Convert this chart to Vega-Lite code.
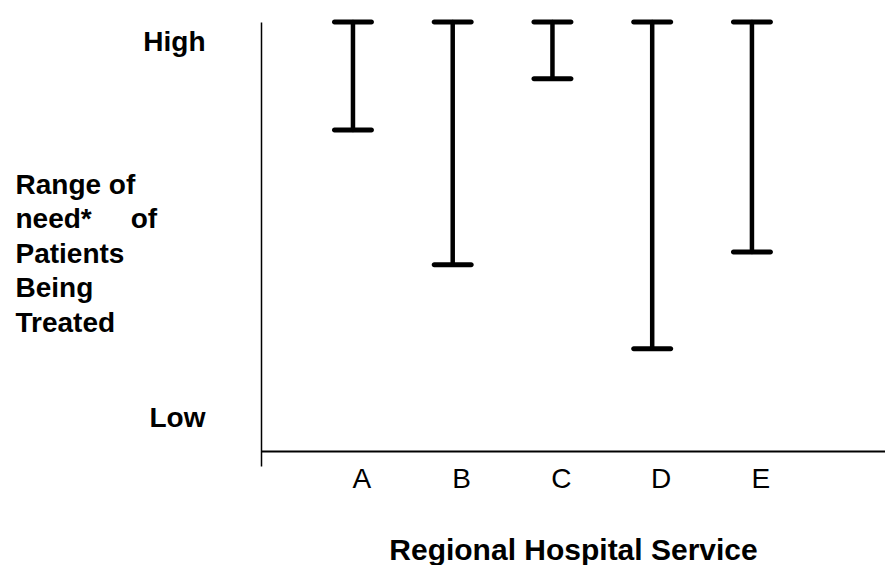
{
  "$schema": "https://vega.github.io/schema/vega-lite/v6.json",
  "width": 624,
  "height": 444,
  "autosize": {"type": "none"},
  "padding": {"left": 261, "top": 22, "right": 0, "bottom": 99},
  "background": "white",
  "config": {"view": {"stroke": null}, "font": "Liberation Sans"},
  "data": {
    "values": [
      {"service": "A", "low": 75.7, "high": 100},
      {"service": "B", "low": 45.3, "high": 100},
      {"service": "C", "low": 87.2, "high": 100},
      {"service": "D", "low": 26.4, "high": 100},
      {"service": "E", "low": 48.2, "high": 100}
    ]
  },
  "mark": {
    "type": "errorbar",
    "ticks": {"size": 42, "thickness": 5, "cornerRadius": 2.5, "color": "black", "opacity": 1},
    "rule": {"strokeWidth": 4.5, "color": "black", "strokeCap": "round"}
  },
  "encoding": {
    "x": {
      "field": "service",
      "type": "nominal",
      "scale": {"type": "band", "domain": ["A", "B", "C", "D", "E"], "paddingInner": 0, "paddingOuter": 0.628, "align": 0.336},
      "axis": {
        "title": "Regional Hospital Service",
        "titleFontSize": 30,
        "titleFontWeight": "bold",
        "titleColor": "black",
        "titlePadding": 42,
        "labelFontSize": 28,
        "labelColor": "black",
        "labelAngle": 0,
        "labelOffset": 9,
        "labelPadding": 14,
        "ticks": false,
        "grid": false,
        "domainColor": "black",
        "domainWidth": 2,
        "offset": -15
      }
    },
    "y": {
      "field": "low",
      "type": "quantitative",
      "scale": {"domain": [0, 100], "nice": false, "zero": false},
      "axis": {
        "title": ["Range of", "need*\u00a0\u00a0\u00a0\u00a0\u00a0of", "Patients", "Being", "Treated"],
        "titleAngle": 0,
        "titleAlign": "left",
        "titleBaseline": "alphabetic",
        "titleX": -246,
        "titleY": 171,
        "titleFontSize": 28,
        "titleFontWeight": "bold",
        "titleLineHeight": 34.5,
        "titleColor": "black",
        "values": [95.3, 10.8],
        "labelExpr": "datum.value > 50 ? 'High' : 'Low'",
        "labelFontSize": 28,
        "labelFontWeight": "bold",
        "labelColor": "black",
        "labelAlign": "right",
        "labelBaseline": "middle",
        "labelPadding": 56,
        "ticks": false,
        "grid": false,
        "domainColor": "black",
        "domainWidth": 1.5
      }
    },
    "y2": {"field": "high"}
  }
}
